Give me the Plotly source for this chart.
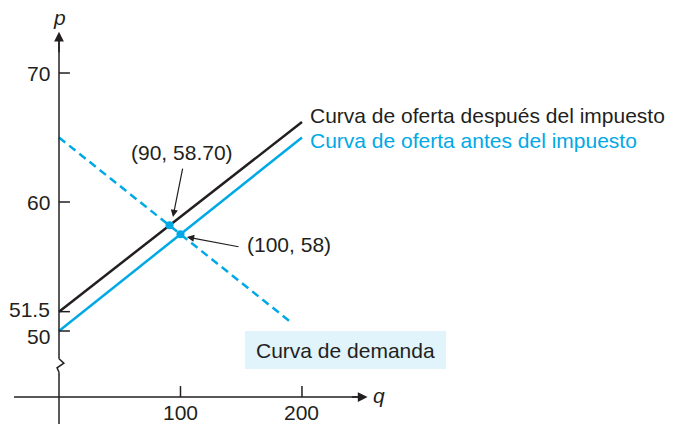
import plotly.graph_objects as go

# ---- data ----
q_supply_after = [0, 200]
p_supply_after = [51.5, 66.2]
q_supply_before = [0, 200]
p_supply_before = [50, 65]
q_demand = [0, 190]
p_demand = [65, 50.75]
eq_q = [91, 100]
eq_p = [58.2, 57.5]
y_ticks = [50, 51.5, 60, 70]
y_tick_labels = ["50", "51.5", "60", "70"]
x_ticks = [100, 200]
x_tick_labels = ["100", "200"]

BLACK = "#231f20"
BLUE = "#00a9e6"
FONT = "Liberation Sans, Arial, sans-serif"
FS = 21

fig = go.Figure()
fig.add_trace(go.Scatter(x=q_supply_after, y=p_supply_after, mode="lines",
                         line=dict(color=BLACK, width=2.5), hoverinfo="skip"))
fig.add_trace(go.Scatter(x=q_supply_before, y=p_supply_before, mode="lines",
                         line=dict(color=BLUE, width=2.5), hoverinfo="skip"))
fig.add_trace(go.Scatter(x=q_demand, y=p_demand, mode="lines",
                         line=dict(color=BLUE, width=2.5, dash="8px,5px"), hoverinfo="skip"))
fig.add_trace(go.Scatter(x=eq_q, y=eq_p, mode="markers",
                         marker=dict(color=BLUE, size=8), hoverinfo="skip"))

shapes = []
axis_line = dict(color=BLACK, width=1.5)
X_AX_P = 44.88
shapes.append(dict(type="line", x0=-37, x1=250, y0=X_AX_P, y1=X_AX_P, line=axis_line))
shapes.append(dict(type="line", x0=0, x1=0, y0=42.5, y1=46.8, line=axis_line))
shapes.append(dict(type="path",
                   path="M 0 46.8 L -1.6 47.15 L 4 47.5 L 0 47.85",
                   line=axis_line))
shapes.append(dict(type="line", x0=0, x1=0, y0=47.85, y1=72.5, line=axis_line))
for t in y_ticks:
    shapes.append(dict(type="line", x0=0, x1=9, y0=t, y1=t, line=axis_line))
for t in x_ticks:
    shapes.append(dict(type="line", x0=t, x1=t, y0=X_AX_P, y1=X_AX_P + 0.85, line=axis_line))
shapes.append(dict(type="rect", x0=153, x1=318.5, y0=47.05, y1=50.0,
                   fillcolor="#e1f3fb", line=dict(width=0), layer="below"))

ann = []
ann.append(dict(x=254, y=X_AX_P, ax=240, ay=X_AX_P, xref="x", yref="y", axref="x", ayref="y",
                showarrow=True, arrowhead=2, arrowsize=1.3, arrowwidth=1.5, arrowcolor=BLACK, text=""))
ann.append(dict(x=0, y=73.2, ax=0, ay=71.5, xref="x", yref="y", axref="x", ayref="y",
                showarrow=True, arrowhead=2, arrowsize=1.3, arrowwidth=1.5, arrowcolor=BLACK, text=""))
ann.append(dict(x=0, y=74.3, text="<i>p</i>", showarrow=False, font=dict(size=FS, color=BLACK, family=FONT),
                xanchor="center", yanchor="middle"))
ann.append(dict(x=257, y=45.0, text="<i>q</i>", showarrow=False, font=dict(size=FS, color=BLACK, family=FONT),
                xanchor="left", yanchor="middle"))
y_label_pos = {"50": 49.6, "51.5": 51.65, "60": 60, "70": 70}
for t, lab in zip(y_ticks, y_tick_labels):
    ann.append(dict(x=-5.8, y=y_label_pos[lab], text=lab, showarrow=False, xanchor="right", yanchor="middle",
                    font=dict(size=FS, color=BLACK, family=FONT)))
for t, lab in zip(x_ticks, x_tick_labels):
    ann.append(dict(x=t, y=43.72, text=lab, showarrow=False, xanchor="center", yanchor="middle",
                    font=dict(size=FS, color=BLACK, family=FONT)))
ann.append(dict(x=205, y=66.74, text="Curva de oferta después del impuesto", showarrow=False,
                xanchor="left", yanchor="middle", font=dict(size=FS, color=BLACK, family=FONT)))
ann.append(dict(x=205, y=64.73, text="Curva de oferta antes del impuesto", showarrow=False,
                xanchor="left", yanchor="middle", font=dict(size=FS, color=BLUE, family=FONT)))
ann.append(dict(x=235.7, y=48.5, text="Curva de demanda", showarrow=False,
                xanchor="center", yanchor="middle", font=dict(size=FS, color=BLACK, family=FONT)))
ann.append(dict(x=101, y=63.8, text="(90, 58.70)", showarrow=False,
                xanchor="center", yanchor="middle", font=dict(size=FS, color=BLACK, family=FONT)))
ann.append(dict(x=153, y=56.67, text="(100, 58)", showarrow=False,
                xanchor="left", yanchor="middle", font=dict(size=FS, color=BLACK, family=FONT)))
ann.append(dict(x=93.8, y=58.84, ax=102, ay=62.71, xref="x", yref="y", axref="x", ayref="y",
                showarrow=True, arrowhead=2, arrowsize=1.2, arrowwidth=1.2, arrowcolor=BLACK, text=""))
ann.append(dict(x=105.3, y=57.29, ax=149, ay=56.51, xref="x", yref="y", axref="x", ayref="y",
                showarrow=True, arrowhead=2, arrowsize=1.2, arrowwidth=1.2, arrowcolor=BLACK, text=""))

fig.update_layout(
    width=682, height=424,
    margin=dict(l=0, r=0, t=0, b=0, pad=0),
    paper_bgcolor="white", plot_bgcolor="white",
    showlegend=False,
    shapes=shapes, annotations=ann,
    xaxis=dict(range=[-48.56, 512.8], visible=False, fixedrange=True),
    yaxis=dict(range=[42.79, 75.66], visible=False, fixedrange=True),
)
fig.write_html("out.html", config={"displayModeBar": False},
               post_script="document.body.style.margin='0';document.body.style.overflow='hidden';")
